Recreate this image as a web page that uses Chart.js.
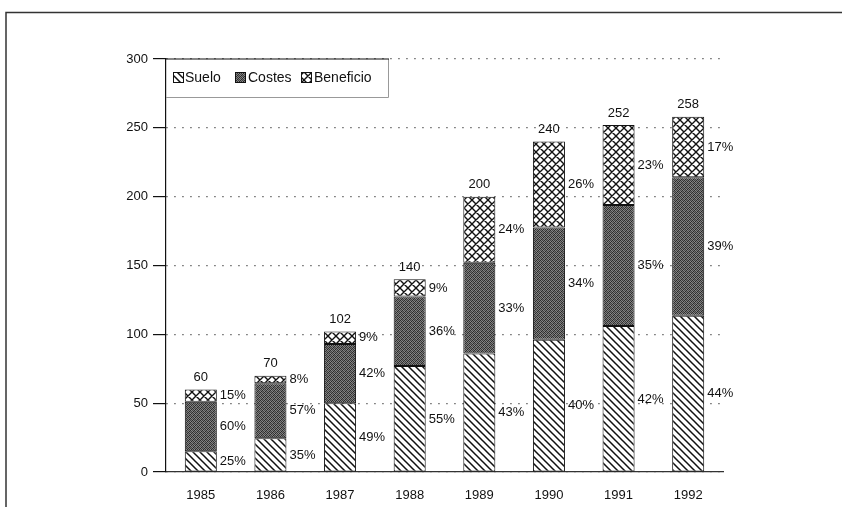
<!DOCTYPE html>
<html>
<head>
<meta charset="utf-8">
<script src="https://cdn.jsdelivr.net/npm/chart.js@4.4.1/dist/chart.umd.min.js"></script>
<style>
html,body{margin:0;padding:0;background:#fff;}
#wrap{position:relative;width:842px;height:507px;}
</style>
</head>
<body>
<div id="wrap"><canvas id="c" width="842" height="507"></canvas></div>
<script>
// ---- data ----
const years = ['1985','1986','1987','1988','1989','1990','1991','1992'];
const suelo = [15, 24.5, 50, 77, 86, 96, 106, 113.5];
const costes = [36, 40, 43, 50.4, 66, 81.6, 88, 100.6];
const beneficio = [9, 5.5, 9, 12.6, 48, 62.4, 58, 43.9];
const totals = [60, 70, 102, 140, 200, 240, 252, 258];
const pctSuelo = [25, 35, 49, 55, 43, 40, 42, 44];
const pctCostes = [60, 57, 42, 36, 33, 34, 35, 39];
const pctBeneficio = [15, 8, 9, 9, 24, 26, 23, 17];
const seriesNames = ['Suelo', 'Costes', 'Beneficio'];
const yTicks = [0, 50, 100, 150, 200, 250, 300];

// ---- patterns ----
function hatch(){
  const s = 7, c = document.createElement('canvas'); c.width = s; c.height = s;
  const x = c.getContext('2d');
  x.fillStyle = '#fff'; x.fillRect(0,0,s,s);
  x.strokeStyle = '#111'; x.lineWidth = 1.5;
  x.beginPath();
  for (const o of [-s, 0, s]) { x.moveTo(o-1, -1); x.lineTo(o+s+1, s+1); }
  x.stroke();
  return x.createPattern(c, 'repeat');
}
function cross(){
  const s = 8, c = document.createElement('canvas'); c.width = s; c.height = s;
  const x = c.getContext('2d');
  x.fillStyle = '#fff'; x.fillRect(0,0,s,s);
  x.strokeStyle = '#111'; x.lineWidth = 1.4;
  x.beginPath();
  for (const o of [-s, 0, s]) {
    x.moveTo(o-1, -1); x.lineTo(o+s+1, s+1);
    x.moveTo(o-1, s+1); x.lineTo(o+s+1, -1);
  }
  x.stroke();
  return x.createPattern(c, 'repeat');
}
function stipple(){
  const s = 4, c = document.createElement('canvas'); c.width = s; c.height = s;
  const x = c.getContext('2d');
  const img = x.createImageData(s, s);
  const g = [45,130,65,115, 125,55,140,40, 75,120,45,135, 135,40,110,65];
  for (let i = 0; i < 16; i++) { img.data[i*4]=g[i]; img.data[i*4+1]=g[i]; img.data[i*4+2]=g[i]; img.data[i*4+3]=255; }
  x.putImageData(img, 0, 0);
  return x.createPattern(c, 'repeat');
}
const patterns = [hatch(), stipple(), cross()];
const pcts = [pctSuelo, pctCostes, pctBeneficio];
const FONT = '"Liberation Sans", Arial, Helvetica, sans-serif';

const decor = {
  id: 'decor',
  beforeDraw(chart){
    const ctx = chart.ctx;
    ctx.save();
    ctx.fillStyle = '#fff'; ctx.fillRect(0,0,chart.width,chart.height);
    ctx.strokeStyle = '#333'; ctx.lineWidth = 1.5;
    ctx.beginPath();
    ctx.moveTo(6, 507); ctx.lineTo(6, 12.5); ctx.lineTo(842, 12.5);
    ctx.stroke();
    ctx.restore();
  },
  afterDatasetsDraw(chart){
    const ctx = chart.ctx;
    ctx.save();
    ctx.font = '13px ' + FONT;
    ctx.fillStyle = '#111';
    const metas = [0,1,2].map(i => chart.getDatasetMeta(i));
    const ys = chart.scales.y;
    for (let i = 0; i < years.length; i++) {
      let base = 0;
      for (let d = 0; d < 3; d++) {
        const el = metas[d].data[i];
        const v = chart.data.datasets[d].data[i];
        const mid = ys.getPixelForValue(base + v/2);
        base += v;
        ctx.textAlign = 'left'; ctx.textBaseline = 'middle';
        ctx.fillText(pcts[d][i] + '%', el.x + el.width/2 + 3, mid);
      }
      const top = metas[2].data[i];
      ctx.textAlign = 'center'; ctx.textBaseline = 'middle';
      ctx.fillText(String(totals[i]), top.x, ys.getPixelForValue(base) - 12);
    }
    // legend box
    const a = chart.chartArea;
    const L = a.left, T = a.top, R = 388, B = 97;
    ctx.fillStyle = '#fff';
    ctx.fillRect(L+1, T+1, R-L-1, B-T-1);
    ctx.strokeStyle = '#999'; ctx.lineWidth = 1;
    ctx.beginPath(); ctx.moveTo(R+0.5, T); ctx.lineTo(R+0.5, B+0.5); ctx.lineTo(L, B+0.5); ctx.stroke();
    ctx.strokeStyle = '#111'; ctx.lineWidth = 1.2;
    ctx.beginPath(); ctx.moveTo(L, T); ctx.lineTo(R+1, T); ctx.stroke();
    const sw = [173, 235, 301];
    const tx = [185, 248, 314];
    ctx.font = '14px ' + FONT;
    ctx.textAlign = 'left'; ctx.textBaseline = 'middle';
    for (let d = 0; d < 3; d++) {
      ctx.fillStyle = patterns[d];
      ctx.fillRect(sw[d], 72, 10, 10);
      ctx.strokeStyle = '#111'; ctx.lineWidth = 1;
      ctx.strokeRect(sw[d]+0.5, 72.5, 10, 10);
      ctx.fillStyle = '#111';
      ctx.fillText(seriesNames[d], tx[d], 78);
    }
    ctx.restore();
  }
};

new Chart(document.getElementById('c'), {
  type: 'bar',
  data: {
    labels: years,
    datasets: [suelo, costes, beneficio].map((arr, d) => ({
      label: seriesNames[d],
      data: arr,
      backgroundColor: patterns[d],
      borderColor: '#111',
      borderWidth: 1,
      borderSkipped: false,
      categoryPercentage: 1,
      barPercentage: 0.46
    }))
  },
  options: {
    responsive: false,
    animation: false,
    devicePixelRatio: 1,
    layout: { padding: { left: 0, right: 119, top: 59, bottom: 0 } },
    plugins: { legend: { display: false }, tooltip: { enabled: false } },
    scales: {
      x: {
        stacked: true,
        grid: { display: false },
        border: { display: true, color: '#333', width: 1.2 },
        ticks: { color: '#111', font: { family: FONT, size: 13 }, padding: 8 },
        afterFit(s){ s.height = 35; }
      },
      y: {
        stacked: true,
        min: 0, max: 300,
        afterBuildTicks(s){ s.ticks = yTicks.map(v => ({ value: v })); },
        grid: { color: '#666', lineWidth: 1.2, tickColor: '#111', tickBorderDash: [], tickLength: 13, tickWidth: 1.2, drawTicks: true },
        border: { display: true, color: '#111', width: 1.2, dash: [1.5, 6.5] },
        ticks: { color: '#111', font: { family: FONT, size: 13 }, padding: 5 },
        afterFit(s){ s.width = 166; }
      }
    }
  },
  plugins: [decor]
});
</script>
</body>
</html>
